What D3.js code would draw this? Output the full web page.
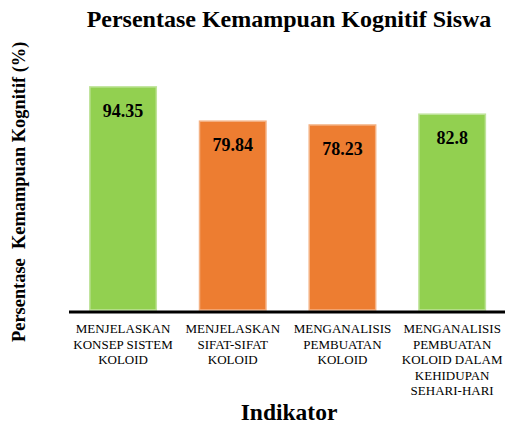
<!DOCTYPE html>
<html><head><meta charset="utf-8">
<script src="https://cdn.jsdelivr.net/npm/d3@7"></script>
<style>body{margin:0;background:#fff}svg{display:block}</style>
</head><body>
<script>
const categories = [
  ["MENJELASKAN","KONSEP SISTEM","KOLOID"],
  ["MENJELASKAN","SIFAT-SIFAT","KOLOID"],
  ["MENGANALISIS","PEMBUATAN","KOLOID"],
  ["MENGANALISIS","PEMBUATAN","KOLOID DALAM","KEHIDUPAN","SEHARI-HARI"]
];
const values = [94.35, 79.84, 78.23, 82.8];
const valueLabels = ["94.35","79.84","78.23","82.8"];
const barColors = ["#92D050","#ED7D31","#ED7D31","#92D050"];
const borderColors = ["#BFE39A","#F4B183","#F4B183","#BFE39A"];
const title = "Persentase Kemampuan Kognitif Siswa";
const yTitle = "Persentase  Kemampuan Kognitif (%)";
const xTitle = "Indikator";

const W = 505, H = 425;
const svg = d3.select("body").append("svg").attr("width", W).attr("height", H)
  .attr("font-family", "'Liberation Serif', 'Times New Roman', Times, serif");
const ids = categories.map((c,i)=>i);
const x = d3.scaleBand().domain(ids).range([68.2, 507]).paddingInner(0.394).paddingOuter(0.197);
const y = d3.scaleLinear().domain([0, 100]).range([310, 73.5]);

svg.selectAll("rect.bar").data(values).join("rect")
  .attr("class","bar")
  .attr("x",(d,i)=>x(i)).attr("width",x.bandwidth())
  .attr("y",d=>y(d)).attr("height",d=>y(0)-y(d))
  .attr("fill",(d,i)=>barColors[i])
  .attr("stroke",(d,i)=>borderColors[i]).attr("stroke-width",1.5);

svg.selectAll("text.val").data(values).join("text")
  .attr("class","val")
  .attr("x",(d,i)=>x(i)+x.bandwidth()/2).attr("y",d=>y(d)+30)
  .attr("text-anchor","middle").attr("font-weight","bold").attr("font-size","18px")
  .text((d,i)=>valueLabels[i]);

svg.append("line").attr("x1",69).attr("x2",505).attr("y1",312).attr("y2",312)
  .attr("stroke","#000").attr("stroke-width",3);

const lab = svg.selectAll("text.cat").data(categories).join("text")
  .attr("class","cat").attr("text-anchor","middle").attr("font-size","13px").attr("fill","#000");
lab.each(function(lines,i){
  const cx = x(i)+x.bandwidth()/2;
  d3.select(this).selectAll("tspan").data(lines).join("tspan")
    .attr("x",cx).attr("y",(d,j)=>333+j*15.5).text(d=>d);
});

svg.append("text").attr("x",289).attr("y",26.7).attr("text-anchor","middle")
  .attr("font-weight","bold").attr("font-size","24px").text(title);
svg.append("text").attr("x",289).attr("y",419.5).attr("text-anchor","middle")
  .attr("font-weight","bold").attr("font-size","23.5px").text(xTitle);
svg.append("text").attr("transform","translate(25,342) rotate(-90)").attr("text-anchor","start")
  .attr("font-weight","bold").attr("font-size","18.4px").style("white-space","pre").text(yTitle);
</script>
</body></html>
